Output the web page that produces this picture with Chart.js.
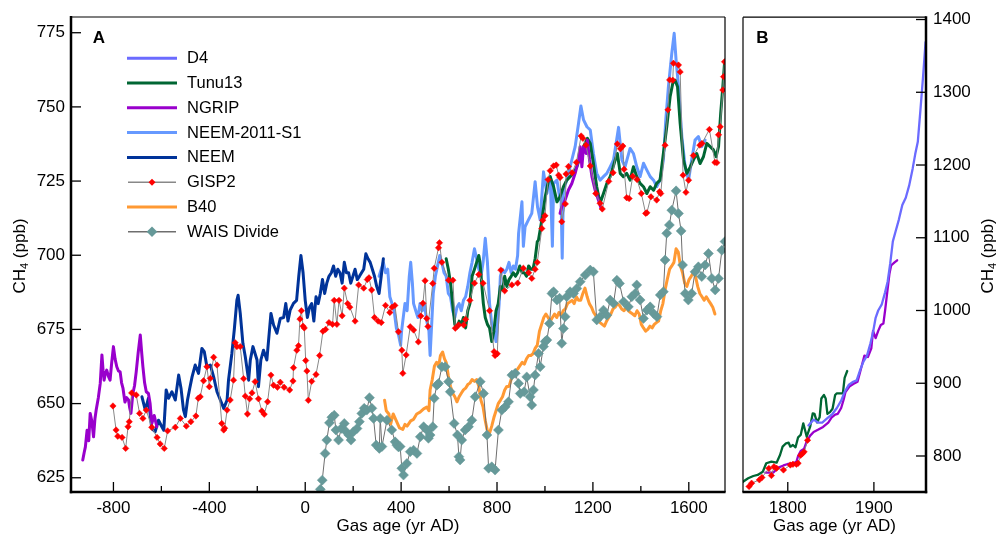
<!DOCTYPE html>
<html><head><meta charset="utf-8">
<script src="https://cdn.jsdelivr.net/npm/chart.js@4.4.0/dist/chart.umd.min.js"></script>
<style>
html,body{margin:0;padding:0;background:#fff;}
#wrap{position:relative;width:997px;height:538px;overflow:hidden;}
#boxA{position:absolute;left:0;top:0;width:740px;height:538px;}
#boxB{position:absolute;left:735px;top:0;width:262px;height:538px;}
</style></head><body>
<div id="wrap"><div id="boxA"><canvas id="cA"></canvas></div><div id="boxB"><canvas id="cB"></canvas></div></div>
<script>
// ---------- tick labels ----------
const xTicksA = [-800,-400,0,400,800,1200,1600];
const xMinorA = [-600,-200,200,600,1000,1400];
const yTicksA = [625,650,675,700,725,750,775];
const xTicksB = [1800,1900];
const yTicksB = [800,900,1000,1100,1200,1300,1400];
const legendLabels = ['D4','Tunu13','NGRIP','NEEM-2011-S1','NEEM','GISP2','B40','WAIS Divide'];

// ---------- panel A series: [year AD, CH4 ppb] ----------
const d4A = [];
const ngripA = [[-928,631],[-922,633.5],[-917,635.4],[-910,641],[-903,637.5],[-897,646.7],[-890,644],[-883,638.8],[-877,645],[-872,647.8],[-863,652],[-855,656.8],[-848,666.4],[-843,661],[-839,657.9],[-834,660],[-828,661.3],[-820,659],[-814,657.9],[-807,664],[-800,669.2],[-793,665],[-786,662.4],[-779,661],[-772,660.7],[-766,657],[-760,655.1],[-752,650.5],[-745,652],[-737,651.2],[-732,648.5],[-727,646.7],[-719,653.4],[-712,656],[-705,660.7],[-697,667],[-688,673.1],[-682,667],[-677,662.4],[-670,657],[-663,654],[-654,653.4],[-647,650],[-640,643.3],[-630,646],[-619,642.2],
 [200,null],
 [1063,714.1],[1070,716.3],[1084,718.6],[1098,722],[1112,724.2],[1126,727.6],[1140,732.1],[1147,736.6],[1154,729.8],[1161,736.6],[1172,734.3],[1177,738.8],[1186,732.1],[1196,726.5],[1209,722],[1223,718.6],[1234,715.8]];
const neemA = [[-681,652.3],[-667,647.8],[-654,651.8],[-640,641.6],[-626,640.5],[-612,644.4],[-598,642.2],[-590,641],[-580,654.6],[-570,651.8],[-556,654],[-542,651.2],[-528,659.6],[-518,655.1],[-508,648],[-500,645.6],[-491,651.2],[-482,655],[-472,659],[-459,663],[-445,660.2],[-431,668.6],[-421,667.5],[-410,662.4],[-396,663],[-382,659],[-368,654],[-354,651.2],[-340,648.4],[-326,651.2],[-320,657.9],[-306,666.9],[-296,674.8],[-285,684.9],[-280,686.5],[-271,680.4],[-260,670.3],[-250,665.8],[-236,657.9],[-229,664.7],[-218,669.2],[-201,664.7],[-195,655.7],[-185,664.7],[-174,668],[-160,664.7],[-143,680.4],[-132,676.5],[-118,673.7],[-104,678.7],[-90,679],[-81,683.7],[-72,677.8],[-63,681.5],[-49,683.8],[-36,684.8],[-27,692.9],[-18,699.9],[-9,694.1],[0,684.8],[9,679],[18,682.5],[27,683.7],[36,677.8],[45,686],[54,683.7],[63,687.1],[72,691.8],[81,687.1],[90,690.6],[99,692.9],[109,694.1],[118,696.4],[127,692.9],[136,695.3],[145,694.1],[154,690.6],[163,697.6],[172,694.1],[181,694.1],[190,690.6],[199,692.9],[208,695.3],[217,691.8],[226,692.9],[235,694.1],[244,695.3],[253,700.5],[262,698.8],[271,697.6],[280,695.3],[289,692.9],[298,689.5],[308,687.1],[317,692.9],[326,698.8]];
const neemS1A = [[308,692.9],[317,695.3],[326,697.6],[335,694.1],[344,695.3],[353,686],[362,683.7],[371,681.3],[380,675.5],[389,673.2],[398,669.7],[402,674.4],[407,677.8],[416,683.7],[425,681.3],[434,692.9],[440,697.6],[447,690.6],[452,683.7],[461,681.3],[470,679],[479,683.7],[488,681.3],[497,683.7],[507,677.8],[516,674.4],[521,666.2],[526,674.4],[534,687.1],[543,692.9],[552,696.4],[561,699.9],[570,697.6],[579,694.1],[588,692.9],[597,687.1],[606,686],[615,681.3],[624,679],[633,682.5],[642,683.7],[651,681.3],[660,684.8],[669,686],[678,689.5],[687,694.1],[696,697.6],[706,702.2],[715,698.8],[724,695.3],[733,692.9],[742,697.6],[751,705.7],[760,697.6],[769,683.7],[778,676.7],[787,674.4],[796,670.9],[801,675.5],[809,683.7],[814,692.9],[823,695.3],[832,694.1],[841,695.3],[850,697.6],[859,694.1],[868,696.4],[877,695.3],[886,699.9],[890,707.4],[904,718],[910,703],[917,709.6],[931,711.9],[945,714.1],[959,724.8],[969,716.3],[980,711.9],[994,728.1],[1008,720.8],[1022,726.5],[1031,703],[1036,724.2],[1050,725.3],[1063,718.6],[1067,720],[1072,699],[1077,722],[1091,725.3],[1112,732.1],[1126,736.6],[1140,744.4],[1150,750.3],[1161,745.6],[1175,743.3],[1189,742.2],[1202,734.3],[1216,727.6],[1230,725.3],[1244,726.5],[1258,727.6],[1272,729.8],[1286,732.1],[1307,743.1],[1321,732.1],[1334,729.8],[1355,736],[1369,734.3],[1383,729.8],[1397,726.5],[1411,731],[1425,728.7],[1439,726.5],[1453,725.3],[1466,723.1],[1480,725.3],[1494,732.1],[1504,745.6],[1515,756.8],[1529,768],[1539,774.8],[1547,765.8],[1557,756.8],[1571,740],[1585,729.8],[1599,725.3],[1612,732.1],[1626,738.8],[1640,740],[1654,736.6],[1668,738.8]];
const tunu13A = [[588,698.8],[597,695.3],[606,690.6],[615,683.7],[624,676.7],[633,675.5],[642,677.8],[651,676.7],[660,679],[669,675.5],[678,681.3],[687,683.7],[696,692.9],[706,695.3],[715,697.6],[724,699.9],[729,697.6],[736,690.6],[743,683.7],[751,679],[760,676.7],[769,675.5],[778,670.9],[787,674.4],[796,681.3],[805,683.7],[814,689.5],[823,688.3],[832,692.9],[841,689.5],[850,691.8],[859,692.9],[868,694.1],[877,692.9],[886,694.1],[895,696.4],[905,694.1],[914,694.1],[923,692.9],[932,696.4],[941,695.3],[950,695.3],[959,698.8],[968,704.6],[973,705.1],[987,711.9],[1001,719.7],[1015,725.3],[1022,726.5],[1036,723.1],[1050,718],[1063,719.7],[1077,723.1],[1091,725.3],[1105,726.5],[1119,727.6],[1133,729.8],[1147,733.2],[1161,736.6],[1177,739.4],[1189,737.7],[1202,731],[1216,723.1],[1230,717.5],[1244,720.8],[1258,724.2],[1272,726.5],[1293,732.1],[1302,734.3],[1314,727.6],[1327,726.5],[1341,727.6],[1355,725.3],[1369,729.8],[1383,726.5],[1397,724.2],[1411,723.1],[1425,720.8],[1439,723.1],[1453,721.9],[1466,724.2],[1480,725.3],[1494,734.3],[1508,743.3],[1522,753.4],[1533,757.9],[1543,759],[1553,756.8],[1564,744.4],[1578,732.1],[1592,727.6],[1606,729.8],[1619,732.1],[1633,734.3],[1647,730.9],[1661,733.2],[1675,737.7],[1689,736.6],[1703,735.5],[1714,733.2],[1724,736.6],[1733,747.8],[1742,756.8],[1749,764.7]];
const gisp2A = [[-802,649.2],[-789,641.1],[-782,639],[-764,638.6],[-749,634.9],[-739,642.2],[-734,643.9],[-724,653.6],[-705,652.9],[-691,646.7],[-677,645],[-663,647.8],[-640,642],[-618,638.6],[-605,636.4],[-588,634.9],[-574,640.8],[-542,642],[-521,645],[-496,642.4],[-477,643.9],[-456,645.8],[-446,651.8],[-438,652.3],[-424,657.7],[-410,662.4],[-400,655.7],[-396,658.5],[-382,665.6],[-368,663],[-348,643.3],[-340,641.1],[-336,641.7],[-326,647.8],[-313,651.2],[-299,657.9],[-292,670.5],[-285,669.2],[-271,669.2],[-257,658.4],[-250,652.5],[-241,646.5],[-232,651.6],[-222,653.6],[-209,657.4],[-195,651.6],[-181,647.5],[-171,646.4],[-157,650.6],[-143,659.6],[-132,656.2],[-116,655.5],[-104,657.2],[-88,655.5],[-65,654.6],[-51,657.6],[-49,662.1],[-35,668],[-28,669.5],[-22,678.5],[-16,681.3],[-9,676.1],[-4,675.5],[2,664.5],[7,661],[13,651.1],[27,657.5],[45,659.8],[60,666.2],[74,674.4],[85,675],[99,677.3],[114,676.7],[121,684.8],[132,676.7],[141,684.8],[154,679.6],[163,688.9],[177,683.7],[186,682.5],[208,677.8],[223,690],[244,688.9],[259,691.8],[266,692.4],[277,688.3],[289,679],[304,677.8],[317,677.3],[335,683.1],[353,680.7],[362,682.5],[374,683.1],[389,674.2],[403,668],[407,660.2],[421,666.4],[438,675.9],[452,674.8],[472,670.8],[482,679.5],[491,683.8],[500,691.4],[507,678.7],[512,676],[532,690.5],[538,695.6],[556,702.5],[560,704.2],[570,697.6],[598,691.6],[616,691.6],[626,675.4],[640,676.5],[661,676.5],[669,678.4],[687,684.8],[706,690.6],[724,693.5],[742,690.6],[769,681.3],[788,667.5],[792,666.2],[801,666.8],[816,695],[832,688],[862,690],[886,690.6],[910,695.6],[932,694.1],[945,692.2],[959,695.3],[968,697.6],[987,709],[991,711.8],[1000,713.3],[1013,725.5],[1022,728.5],[1036,730.1],[1047,730.4],[1057,727],[1063,726.2],[1070,711.3],[1085,717.3],[1088,727.4],[1098,729.9],[1113,727.8],[1131,731.3],[1151,740.2],[1158,739.4],[1171,737.1],[1189,730.1],[1212,720.8],[1230,717.5],[1239,715.6],[1266,724.9],[1284,727.8],[1302,737.5],[1315,735.9],[1325,736.8],[1330,729],[1341,719.4],[1351,719.1],[1366,726.6],[1384,725.5],[1402,720.8],[1420,714.1],[1425,714.3],[1442,719.7],[1466,718.6],[1478,721.4],[1483,720.8],[1501,737.1],[1513,749],[1520,759.1],[1533,759],[1536,764.7],[1557,764.1],[1564,761.8],[1576,727],[1588,721.2],[1599,725.3],[1619,733.6],[1646,737.1],[1655,737.7],[1686,742.4],[1709,731.3],[1717,731.2],[1724,740.6],[1731,743.3],[1742,755.7],[1745,760.2],[1749,765.2]];
const b40A = [[331,651.1],[338,647.6],[349,646.5],[356,643],[367,646.5],[380,644.2],[393,641.8],[407,641.3],[416,643],[425,642.4],[440,644.2],[452,644.7],[465,646.5],[479,647.1],[494,648.2],[507,648.8],[516,647.6],[521,654.6],[530,658.1],[539,662.7],[548,663.9],[557,662.7],[564,666.2],[573,667.4],[581,665.1],[588,663.9],[597,659.3],[606,655.8],[615,653.5],[624,652.3],[633,650.6],[642,652.3],[651,653.5],[660,654.6],[669,655.2],[678,656.4],[687,656.9],[696,658.1],[706,657.5],[715,658.1],[724,655.8],[733,651.1],[742,648.8],[751,644.2],[760,640.7],[769,640.1],[778,642.4],[787,645.3],[796,647.6],[805,650],[814,651.1],[823,652.3],[832,654.6],[841,655.8],[850,655.8],[859,658.1],[868,659.8],[877,661],[886,661.6],[895,662.7],[905,663.9],[914,663.3],[923,665.1],[932,666.2],[941,666.2],[950,666.8],[959,668.6],[968,669.7],[977,674.4],[986,676.7],[995,679],[1004,680.2],[1013,679],[1022,677.8],[1031,679],[1040,680.2],[1049,679],[1058,680.7],[1067,679.6],[1076,681.3],[1085,681.9],[1094,683.7],[1103,684.2],[1113,684.8],[1122,683.7],[1131,686],[1140,684.8],[1149,684.8],[1158,687.1],[1167,688.9],[1176,686],[1185,683.7],[1194,682.5],[1203,680.7],[1212,679.6],[1221,677.8],[1230,677.3],[1239,676.7],[1248,676.1],[1257,677.8],[1266,679],[1275,680.2],[1284,681.9],[1293,682.5],[1302,683.7],[1311,683.1],[1320,681.9],[1330,681.3],[1339,682.5],[1348,681.3],[1357,680.7],[1366,680.2],[1375,679.6],[1384,681.3],[1393,680.2],[1402,676.7],[1411,675.5],[1420,674.4],[1429,675],[1438,676.1],[1447,675.5],[1456,676.7],[1465,677.3],[1474,677.8],[1483,681.3],[1492,683.7],[1501,688.3],[1510,691.8],[1520,695.3],[1529,696.4],[1538,697.6],[1547,702.2],[1556,701.1],[1565,696.4],[1574,694.1],[1583,690.6],[1592,689.5],[1601,691.8],[1610,692.9],[1619,694.1],[1628,692.9],[1637,689.5],[1646,687.1],[1655,686],[1664,684.8],[1673,686],[1682,684.8],[1691,683.7],[1700,682.5],[1709,680.2]];
const waisA = [[63,621.1],[71,624.2],[83,633.2],[90,637.7],[101,643.5],[111,645.4],[121,646.1],[128,641.1],[139,637.7],[150,641.6],[163,643.3],[171,640.5],[182,639.4],[191,637.7],[201,640.5],[216,641.6],[226,643.9],[236,646.7],[246,648.4],[257,647.8],[268,652],[278,648.4],[285,645],[296,636],[309,634.9],[313,645],[320,635.5],[341,644.4],[361,641.1],[375,637.1],[382,636],[389,635.4],[396,635.5],[403,628.2],[410,625.9],[424,629.8],[438,633.8],[452,634.3],[466,633.2],[480,638.8],[494,642.2],[507,641.1],[514,638.3],[521,639.4],[532,642.2],[538,651.8],[549,656.2],[556,656.8],[570,662.4],[584,662.4],[598,657.4],[605,654],[621,643.3],[635,639.4],[641,632.1],[646,631],[653,637.7],[667,641.1],[681,642.2],[695,644.4],[709,652.3],[730,657.4],[744,653.4],[758,639.4],[765,628.2],[778,628.7],[792,627.6],[806,641.1],[820,647.8],[834,648.9],[848,650.6],[862,659.6],[876,660.2],[890,656.8],[897,653.4],[913,654],[924,659],[938,652.3],[945,649.5],[952,654.6],[959,659.6],[973,666.9],[980,662.4],[994,669.2],[1001,670.9],[1008,671.4],[1019,677],[1029,687.1],[1036,687.7],[1050,684.9],[1061,685.5],[1070,670.3],[1077,675.3],[1084,679.3],[1091,686],[1105,687.7],[1119,687.1],[1133,688.8],[1147,691.1],[1168,693.3],[1189,695],[1202,694.4],[1216,678.2],[1230,679.3],[1244,681.5],[1258,679.8],[1272,684.9],[1286,683.8],[1300,691.6],[1311,690.5],[1328,684.3],[1348,682.6],[1362,686],[1376,687.1],[1383,690],[1397,684.9],[1411,678.7],[1425,681.5],[1439,682.6],[1453,680.4],[1467,679.3],[1481,686.6],[1494,687.7],[1501,698.4],[1508,707.4],[1519,710.2],[1529,715.2],[1547,721.7],[1557,714.1],[1568,708.2],[1574,696.7],[1585,687.1],[1598,684.9],[1612,687.1],[1626,694.4],[1640,696.1],[1654,692.8],[1668,696.7],[1682,700.6],[1696,692.2],[1710,688.3],[1724,692.2],[1738,701.7],[1751,704.6]];

// ---------- panel B series ----------
const d4B = [[1824,842],[1830,850],[1835,846],[1840,846],[1846,852],[1852,858],[1857,866],[1862,876],[1866,888],[1871,898],[1876,902],[1880,904],[1884,918],[1888,930],[1892,938],[1896,955],[1899,970],[1902,990],[1905,1000],[1909,1008],[1913,1025],[1916,1040],[1919,1065],[1922,1095],[1925,1108],[1929,1125],[1933,1145],[1937,1155],[1941,1172],[1945,1195],[1948,1215],[1951,1232],[1954,1275],[1957,1320],[1960,1369]];
const ngripB = [[1774,777],[1783,777],[1789,784],[1795,787],[1800,789],[1806,790],[1810,792],[1812,800],[1815,807],[1819,810],[1822,820],[1826,828],[1830,833],[1835,836],[1841,840],[1847,846],[1851,853],[1855,857],[1858,858],[1862,866],[1865,878],[1867,888],[1872,896],[1876,899],[1881,902],[1885,920],[1889,938],[1893,936],[1897,948],[1899,972],[1902,962],[1905,972],[1908,980],[1911,982],[1913,1000],[1915,1020],[1918,1050],[1920,1062],[1924,1066],[1927,1069]];
const tunu13B = [[1748,764.7],[1754,769.3],[1760,772.5],[1765,773.9],[1771,778.4],[1775,790],[1781,792.2],[1787,790.8],[1791,801.4],[1794,812.8],[1798,817.5],[1801,818.3],[1803,812.8],[1806,815.1],[1809,812],[1812,825.7],[1815,828.9],[1818,844.9],[1820,835.7],[1822,826.5],[1826,840.3],[1829,858.7],[1831,857.9],[1834,846.2],[1837,853.2],[1839,879.1],[1842,883.8],[1844,879.1],[1846,857.9],[1849,860.3],[1852,865],[1855,883.8],[1857,886.2],[1861,886.2],[1864,886.2],[1866,907.4],[1869,916.8]];
const gisp2B = [[1755,758.1],[1758,762.6],[1767,767.2],[1770,770.4],[1778,783],[1781,773.1],[1784,785.3],[1787,783.2],[1795,780.8],[1803,787.6],[1806,788.6],[1810,788.6],[1812,790],[1815,801],[1817,803.3],[1819,805.7],[1823,821.6]];

// ---------- styling ----------
const COL = {d4:'#6b6bff', tunu:'#006633', ngrip:'#9900cc', neemS1:'#6699ff', neem:'#003399', gisp:'#ff0000', gispLine:'#888888', b40:'#ff9933', wais:'#669999', waisLine:'#6e6e6e'};
const FONT = "'Liberation Sans', Arial, Helvetica, sans-serif";
Chart.defaults.font.family = FONT;
Chart.defaults.font.size = 17;
Chart.defaults.color = '#000';

const pts = a => a.map(p => ({x: p[0], y: p[1]}));
function lineDS(label, data, color, width, order) {
  return {label, data: pts(data), borderColor: color, backgroundColor: color, borderWidth: width,
    pointRadius: 0, pointHoverRadius: 0, tension: 0, fill: false, spanGaps: false, order,
    borderJoinStyle: 'round', borderCapStyle: 'round'};
}
function markDS(label, data, lineColor, markColor, radius, order) {
  return {label, data: pts(data), borderColor: lineColor, backgroundColor: markColor, borderWidth: 1,
    pointStyle: 'rectRot', pointRadius: radius, pointHoverRadius: radius, pointBackgroundColor: markColor,
    pointBorderColor: markColor, pointBorderWidth: 0.5, tension: 0, fill: false, order};
}

function drawYTitle(ctx, cx, cy) {
  ctx.save();
  ctx.translate(cx, cy);
  ctx.rotate(-Math.PI / 2);
  ctx.fillStyle = '#000';
  ctx.textBaseline = 'middle';
  ctx.textAlign = 'left';
  const big = '17px ' + FONT, small = '11px ' + FONT;
  ctx.font = big; const w1 = ctx.measureText('CH').width; const w3 = ctx.measureText(' (ppb)').width;
  ctx.font = small; const w2 = ctx.measureText('4').width;
  let x = -(w1 + w2 + w3) / 2;
  ctx.font = big; ctx.fillText('CH', x, 0); x += w1;
  ctx.font = small; ctx.fillText('4', x, 5); x += w2;
  ctx.font = big; ctx.fillText(' (ppb)', x, 0);
  ctx.restore();
}
function seg(ctx, x1, y1, x2, y2) { ctx.beginPath(); ctx.moveTo(x1, y1); ctx.lineTo(x2, y2); ctx.stroke(); }

// ---------- panel A ----------
const dsA = [
  lineDS(legendLabels[0], d4A, COL.d4, 3, 7),
  lineDS(legendLabels[1], tunu13A, COL.tunu, 3, 3),
  lineDS(legendLabels[2], ngripA, COL.ngrip, 3, 2),
  lineDS(legendLabels[3], neemS1A, COL.neemS1, 3, 6),
  lineDS(legendLabels[4], neemA, COL.neem, 3, 5),
  markDS(legendLabels[5], gisp2A, COL.gispLine, COL.gisp, 3.2, 0),
  lineDS(legendLabels[6], b40A, COL.b40, 3, 4),
  markDS(legendLabels[7], waisA, COL.waisLine, COL.wais, 5, 1)
];

const decoA = {
  id: 'decoA',
  afterDraw(chart) {
    const {ctx, chartArea: a, scales: {x, y}} = chart;
    ctx.save();
    ctx.strokeStyle = '#000';
    ctx.lineWidth = 1.2;
    seg(ctx, a.left, a.top, a.right, a.top);
    seg(ctx, a.right, a.top, a.right, a.bottom);
    ctx.lineWidth = 2.5;
    seg(ctx, a.left, a.top - 1, a.left, a.bottom + 1.2);
    seg(ctx, a.left - 1.2, a.bottom, a.right + 0.6, a.bottom);
    ctx.lineWidth = 1.3;
    xTicksA.forEach(v => { const p = x.getPixelForValue(v); seg(ctx, p, a.bottom, p, a.bottom - 10); });
    xMinorA.forEach(v => { const p = x.getPixelForValue(v); seg(ctx, p, a.bottom, p, a.bottom - 6); });
    yTicksA.forEach(v => { const p = y.getPixelForValue(v); seg(ctx, a.left, p, a.left + 10, p); });
    // legend
    const x0 = a.left + 56, x1 = a.left + 106, tx = a.left + 116;
    chart.data.datasets.forEach((d, i) => {
      const yy = a.top + 41.3 + i * 24.77;
      if (d.pointRadius > 0) {
        ctx.strokeStyle = d.borderColor; ctx.lineWidth = 1.5;
        seg(ctx, x0 + 1, yy, x1 - 1, yy);
        const r = d.pointRadius + 0.3, mx = (x0 + x1) / 2;
        ctx.fillStyle = d.pointBackgroundColor;
        ctx.beginPath(); ctx.moveTo(mx, yy - r); ctx.lineTo(mx + r, yy); ctx.lineTo(mx, yy + r); ctx.lineTo(mx - r, yy); ctx.closePath(); ctx.fill();
      } else {
        ctx.strokeStyle = d.borderColor; ctx.lineWidth = 3;
        seg(ctx, x0, yy, x1, yy);
      }
      ctx.fillStyle = '#000'; ctx.font = '16.5px ' + FONT; ctx.textAlign = 'left'; ctx.textBaseline = 'middle';
      ctx.fillText(d.label, tx, yy + 0.5);
    });
    ctx.fillStyle = '#000'; ctx.font = 'bold 17px ' + FONT; ctx.textAlign = 'center'; ctx.textBaseline = 'middle';
    ctx.fillText('A', 99, 38);
    drawYTitle(ctx, 20, 256);
    ctx.restore();
  }
};

new Chart(document.getElementById('cA'), {
  type: 'line',
  data: {datasets: dsA},
  options: {
    responsive: true, maintainAspectRatio: false, animation: false, events: [],
    layout: {padding: {top: 17, right: 15, left: 0, bottom: 0}},
    plugins: {legend: {display: false}, tooltip: {enabled: false}},
    scales: {
      x: {type: 'linear', min: -977, max: 1751,
        grid: {display: false, drawTicks: false}, border: {display: false},
        afterBuildTicks: s => { s.ticks = xTicksA.map(v => ({value: v})); },
        afterFit: s => { s.height = 46; },
        ticks: {padding: 6, maxRotation: 0, autoSkip: false, callback: v => String(v), font: {size: 17}},
        title: {display: true, text: 'Gas age (yr AD)', font: {size: 17}, padding: {top: 0, bottom: 1}}},
      y: {type: 'linear', min: 620.2, max: 780.3,
        grid: {display: false, drawTicks: false}, border: {display: false},
        afterBuildTicks: s => { s.ticks = yTicksA.map(v => ({value: v})); },
        afterFit: s => { s.width = 71; },
        ticks: {padding: 6, autoSkip: false, callback: v => String(v), font: {size: 17}}}
    }
  },
  plugins: [decoA]
});

// ---------- panel B ----------
const dsB = [
  lineDS('D4', d4B, COL.d4, 2.3, 1),
  lineDS('Tunu13', tunu13B, COL.tunu, 2.3, 3),
  lineDS('NGRIP', ngripB, COL.ngrip, 2.3, 2),
  markDS('GISP2', gisp2B, COL.gispLine, COL.gisp, 3.2, 0)
];
const decoB = {
  id: 'decoB',
  afterDraw(chart) {
    const {ctx, chartArea: a, scales: {x, y}} = chart;
    ctx.save();
    ctx.strokeStyle = '#000';
    ctx.lineWidth = 1.2;
    seg(ctx, a.left, a.top, a.right, a.top);
    seg(ctx, a.left, a.top, a.left, a.bottom);
    ctx.lineWidth = 2.5;
    seg(ctx, a.right, a.top - 1, a.right, a.bottom + 1.2);
    seg(ctx, a.left - 0.6, a.bottom, a.right + 1.2, a.bottom);
    ctx.lineWidth = 1.3;
    xTicksB.forEach(v => { const p = x.getPixelForValue(v); seg(ctx, p, a.bottom, p, a.bottom - 10); });
    yTicksB.forEach(v => { const p = y.getPixelForValue(v); seg(ctx, a.right, p, a.right - 10, p); });
    ctx.fillStyle = '#000'; ctx.font = 'bold 17px ' + FONT; ctx.textAlign = 'center'; ctx.textBaseline = 'middle';
    ctx.fillText('B', 27.5, 38);
    drawYTitle(ctx, 253, 256);
    ctx.restore();
  }
};
new Chart(document.getElementById('cB'), {
  type: 'line',
  data: {datasets: dsB},
  options: {
    responsive: true, maintainAspectRatio: false, animation: false, events: [],
    layout: {padding: {top: 17, right: 0, left: 8, bottom: 0}},
    plugins: {legend: {display: false}, tooltip: {enabled: false}},
    scales: {
      x: {type: 'linear', min: 1748, max: 1960.5,
        grid: {display: false, drawTicks: false}, border: {display: false},
        afterBuildTicks: s => { s.ticks = xTicksB.map(v => ({value: v})); },
        afterFit: s => { s.height = 46; },
        ticks: {padding: 6, maxRotation: 0, autoSkip: false, callback: v => String(v), font: {size: 17}},
        title: {display: true, text: 'Gas age (yr AD)', font: {size: 17}, padding: {top: 0, bottom: 1}}},
      y: {type: 'linear', position: 'right', min: 750.5, max: 1403.2,
        grid: {display: false, drawTicks: false}, border: {display: false},
        afterBuildTicks: s => { s.ticks = yTicksB.map(v => ({value: v})); },
        afterFit: s => { s.width = 71; },
        ticks: {padding: 7, autoSkip: false, callback: v => String(v), font: {size: 17}}}
    }
  },
  plugins: [decoB]
});
</script>
</body></html>
